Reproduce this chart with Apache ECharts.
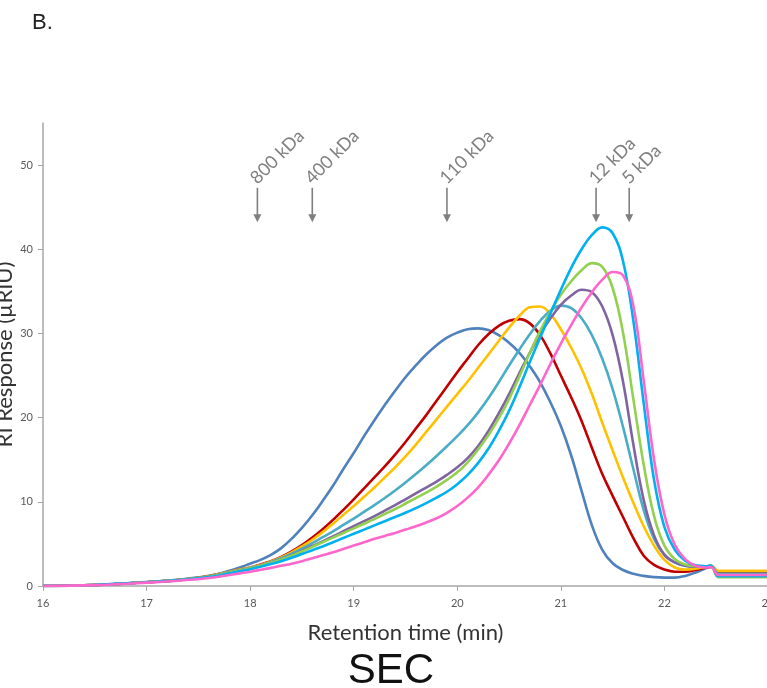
<!DOCTYPE html>
<html>
<head>
<meta charset="utf-8">
<script src="https://cdn.jsdelivr.net/npm/echarts@6/dist/echarts.min.js"></script>
<style>
html,body{margin:0;padding:0;overflow:hidden;background:#fff;width:767px;height:688px;}
#chart{width:772px;height:688px;}
</style>
</head>
<body>
<div id="chart"></div>
<script>
// Retention time (min) sample points
const retention = [16, 16.5, 17, 17.3, 17.6, 17.8,
  17.9, 18.0, 18.1, 18.2, 18.3, 18.4, 18.5, 18.6, 18.7, 18.8, 18.9,
  19.0, 19.1, 19.2, 19.3, 19.4, 19.5, 19.6, 19.7, 19.8, 19.9,
  20.0, 20.1, 20.2, 20.3, 20.4, 20.5, 20.6, 20.7, 20.8, 20.9,
  21.0, 21.1, 21.2, 21.3, 21.4, 21.5, 21.6, 21.7, 21.8, 21.9,
  22.0, 22.1, 22.2, 22.3, 22.4,
  22.45, 22.52, 22.6, 23];

// RI response (µRIU) per trace, one value per retention time above
const blueTrace = [0, 0.12, 0.47, 0.75, 1.2, 1.8,
  2.2, 2.65, 3.1, 3.7, 4.5, 5.6, 6.9, 8.4, 10.1, 11.9, 13.9,
  15.8, 17.8, 19.7, 21.5, 23.2, 24.8, 26.2, 27.5, 28.6, 29.5,
  30.1, 30.5, 30.6, 30.4, 29.8, 28.9, 27.7, 26.1, 24.2, 21.8,
  19.0, 15.5, 11.3, 7.2, 4.3, 2.7, 1.9, 1.45, 1.2, 1.05,
  1.0, 1.0, 1.2, 1.6, 2.1,
  2.25, 1.55, 1.5, 1.5];
const redTrace = [0, 0.12, 0.45, 0.7, 1.15, 1.7,
  1.95, 2.2, 2.55, 2.95, 3.45, 4.1, 4.85, 5.75, 6.75, 7.85, 9.05,
  10.3, 11.6, 12.9, 14.2, 15.6, 17.1, 18.7, 20.3, 22.0, 23.7,
  25.4, 27.0, 28.6, 29.9, 30.9, 31.5, 31.7, 31.2, 29.8, 27.6,
  25.0, 22.4, 19.6, 16.4, 13.3, 10.7, 8.2, 5.7, 3.6, 2.5,
  1.95, 1.7, 1.7, 1.9, 2.2,
  2.3, 1.7, 1.65, 1.65];
const yellowTrace = [0, 0.12, 0.45, 0.7, 1.15, 1.7,
  1.95, 2.2, 2.5, 2.9, 3.4, 4.0, 4.7, 5.5, 6.4, 7.4, 8.45,
  9.5, 10.6, 11.7, 12.9, 14.1, 15.4, 16.8, 18.3, 19.8, 21.3,
  22.8, 24.3, 25.9, 27.5, 29.1, 30.7, 32.1, 33.1, 33.2, 32.3,
  30.5, 28.3, 25.8, 22.8, 19.4, 16.1, 12.9, 9.9, 7.1, 4.8,
  3.1, 2.2, 1.95, 2.05, 2.3,
  2.4, 1.8, 1.8, 1.8];
const tealTrace = [0, 0.12, 0.45, 0.7, 1.1, 1.65,
  1.9, 2.15, 2.45, 2.85, 3.3, 3.85, 4.45, 5.1, 5.8, 6.5, 7.25,
  8.0, 8.8, 9.6, 10.45, 11.35, 12.3, 13.3, 14.35, 15.45, 16.6,
  17.8, 19.1, 20.6, 22.3, 24.2, 26.2, 28.1, 29.9, 31.5, 32.7,
  33.3, 33.0, 31.8, 29.8, 27.0, 23.4, 18.9, 13.9, 9.0, 5.6,
  3.7, 2.8, 2.4, 2.3, 2.35,
  2.4, 1.45, 1.45, 1.45];
const purpleTrace = [0, 0.12, 0.45, 0.7, 1.1, 1.6,
  1.85, 2.1, 2.4, 2.75, 3.15, 3.65, 4.2, 4.75, 5.3, 5.9, 6.5,
  7.1, 7.7, 8.3, 8.95, 9.6, 10.3, 11.0, 11.7, 12.4, 13.2,
  14.1, 15.2, 16.6, 18.4, 20.5, 22.8, 25.3, 27.7, 29.9, 31.8,
  33.4, 34.5, 35.2, 34.9, 33.2, 29.8, 24.3, 16.8, 10.2, 6.0,
  3.7, 2.8, 2.4, 2.3, 2.35,
  2.4, 1.2, 1.2, 1.2];
const greenTrace = [0, 0.12, 0.45, 0.7, 1.1, 1.6,
  1.85, 2.1, 2.4, 2.75, 3.15, 3.6, 4.1, 4.65, 5.2, 5.75, 6.3,
  6.85, 7.4, 7.95, 8.55, 9.15, 9.8, 10.45, 11.1, 11.8, 12.6,
  13.5, 14.7, 16.2, 17.9, 19.9, 22.2, 24.9, 27.7, 30.3, 32.6,
  34.6, 36.2, 37.5, 38.35, 37.9, 35.4, 30.1, 22.2, 14.4, 8.3,
  4.8, 3.2, 2.55, 2.35, 2.35,
  2.4, 1.05, 1.05, 1.05];
const cyanTrace = [0, 0.12, 0.45, 0.68, 1.05, 1.5,
  1.75, 2.0, 2.3, 2.6, 2.95, 3.35, 3.8, 4.25, 4.7, 5.2, 5.7,
  6.2, 6.7, 7.2, 7.7, 8.2, 8.7, 9.25, 9.85, 10.5, 11.2,
  12.1, 13.2, 14.6, 16.3, 18.4, 20.8, 23.6, 26.6, 29.5, 32.4,
  35.2, 37.8, 40.0, 41.7, 42.6, 41.9, 38.6, 31.5, 21.7, 12.6,
  7.0, 4.3, 3.0, 2.45, 2.35,
  2.4, 1.15, 1.15, 1.15];
const pinkTrace = [0, 0.1, 0.4, 0.62, 0.95, 1.3,
  1.5, 1.7, 1.92, 2.15, 2.4, 2.65, 2.95, 3.3, 3.65, 4.0, 4.4,
  4.8, 5.2, 5.6, 5.95, 6.3, 6.7, 7.1, 7.55, 8.05, 8.7,
  9.5, 10.5, 11.7, 13.2, 14.9, 16.9, 19.1, 21.5, 23.9, 26.4,
  28.8, 31.0, 33.1, 34.9, 36.4, 37.3, 36.9, 33.3, 24.4, 15.0,
  8.5, 4.9, 3.2, 2.4, 2.2,
  2.25, 1.3, 1.3, 1.3];

// Molecular weight markers
const markerTimes  = [18.07, 18.6, 19.9, 21.34, 21.66];
const markerLabels = ['800 kDa', '400 kDa', '110 kDa', '12 kDa', '5 kDa'];
const arrowTop = 47.3;   // response value at arrow tail
const arrowTip = 43.2;   // response value at arrow head

// Axis ticks
const yTicks = [0, 10, 20, 30, 40, 50];

const traces = [
  {data: blueTrace,   color: '#4F81BD'},
  {data: redTrace,    color: '#C00000'},
  {data: yellowTrace, color: '#FFC000'},
  {data: tealTrace,   color: '#4BACC6'},
  {data: purpleTrace, color: '#8064A2'},
  {data: greenTrace,  color: '#92D050'},
  {data: cyanTrace,   color: '#00B0F0'},
  {data: pinkTrace,   color: '#FF66CC'}
];

const chart = echarts.init(document.getElementById('chart'), null, {renderer: 'canvas'});

const lineSeries = traces.map(t => ({
  type: 'line',
  data: retention.map((x, i) => [x, t.data[i]]),
  smooth: 0.4,
  symbol: 'none',
  lineStyle: {color: t.color, width: 2.6},
  itemStyle: {color: t.color},
  z: 2
}));

const markerSeries = {
  type: 'custom',
  data: markerTimes.map((x, i) => [x, i]),
  z: 5,
  silent: true,
  renderItem: function (params, api) {
    const x = api.value(0);
    const idx = api.value(1);
    const p1 = api.coord([x, arrowTop]);
    const p2 = api.coord([x, arrowTip]);
    const head = 8;
    const col = '#7F7F7F';
    return {
      type: 'group',
      children: [
        {type: 'line', shape: {x1: p1[0], y1: p1[1], x2: p2[0], y2: p2[1] - head + 1},
         style: {stroke: col, lineWidth: 1.6}},
        {type: 'polygon', shape: {points: [[p2[0] - 4, p2[1] - head], [p2[0] + 4, p2[1] - head], [p2[0], p2[1]]]},
         style: {fill: col}},
        {type: 'text', x: p1[0] - 4, y: p1[1] - 7, rotation: Math.PI / 4,
         style: {text: markerLabels[idx], fill: col, font: '18px Lato', align: 'left', verticalAlign: 'middle'}}
      ]
    };
  }
};

chart.setOption({
  animation: false,
  backgroundColor: '#fff',
  title: [
    {text: 'B.', left: 27, top: 7, textStyle: {fontFamily: 'Liberation Sans', fontSize: 22, fontWeight: 'normal', color: '#222'}},
    {text: 'SEC', left: 386, top: 645, textAlign: 'center', textStyle: {fontFamily: 'Liberation Sans', fontSize: 42, fontWeight: 'normal', color: '#111'}}
  ],
  grid: {left: 43, right: 4, top: 123, bottom: 102, containLabel: false, outerBoundsMode: 'none'},
  xAxis: {
    type: 'value', min: 16, max: 23, interval: 1,
    name: 'Retention time (min)', nameLocation: 'middle', nameGap: 36, nameMoveOverlap: false,
    nameTextStyle: {fontFamily: 'Lato', fontSize: 22, color: '#333'},
    axisLine: {lineStyle: {color: '#A6A6A6', width: 1.5}},
    axisTick: {show: true, length: 5, lineStyle: {color: '#A6A6A6', width: 1}},
    axisLabel: {fontFamily: 'Lato', fontSize: 11, color: '#595959', margin: 12},
    splitLine: {show: false}
  },
  yAxis: {
    type: 'value', min: 0, max: 55, interval: 10,
    name: 'RI Response (µRIU)', nameLocation: 'middle', nameGap: 27, nameRotate: 90, nameMoveOverlap: false,
    nameTextStyle: {fontFamily: 'Lato', fontSize: 22, color: '#333'},
    axisLine: {show: true, lineStyle: {color: '#A6A6A6', width: 1.5}},
    axisTick: {show: true, length: 5, lineStyle: {color: '#A6A6A6', width: 1}, customValues: yTicks},
    axisLabel: {fontFamily: 'Lato', fontSize: 11, color: '#595959', margin: 10, customValues: yTicks},
    splitLine: {show: false}
  },
  series: lineSeries.concat([markerSeries])
});
</script>
</body>
</html>
